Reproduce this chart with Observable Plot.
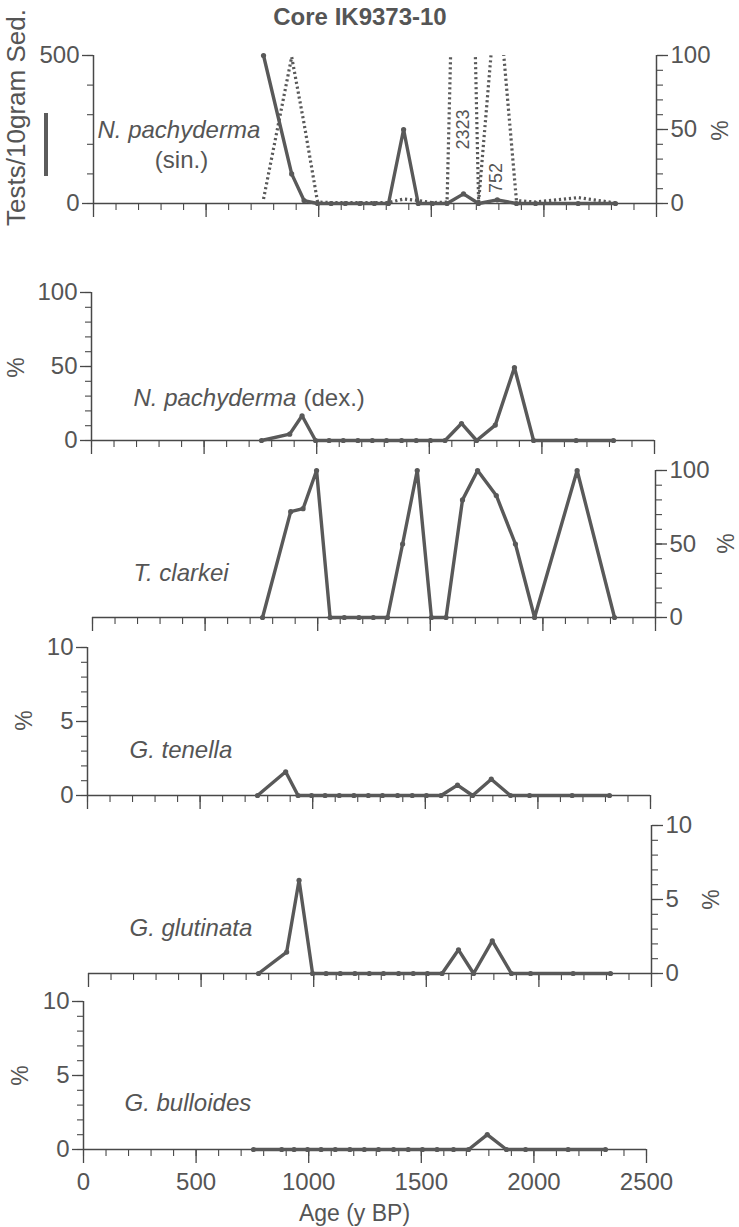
<!DOCTYPE html>
<html><head><meta charset="utf-8">
<script src="https://cdn.jsdelivr.net/npm/d3@7"></script>
<script src="https://cdn.jsdelivr.net/npm/@observablehq/plot@0.6"></script>
<style>
body{margin:0;background:#fff;}
#chart{position:relative;width:739px;height:1227px;overflow:hidden;font-family:"Liberation Sans",Arial,sans-serif;}
#chart svg{position:absolute;left:0;}
#title{position:absolute;top:3px;left:210px;width:300px;text-align:center;font:bold 24px/28px "Liberation Sans",Arial,sans-serif;color:#555;}
#legendbar{position:absolute;left:44px;top:113px;width:4px;height:63px;background:#5c5c5c;}
</style></head>
<body><div id="chart"><div id="title">Core IK9373-10</div><div id="legendbar"></div></div>
<script>
// sample ages (y BP)
const ages = [755, 880, 935, 995, 1055, 1118, 1183, 1247, 1310, 1377, 1442, 1505, 1570, 1643, 1710, 1793, 1878, 1963, 2152, 2318];
// N. pachyderma (sin.) tests / 10 g sediment (dotted, left axis)
const sinTests = [15, 495, 270, 5, 3, 3, 3, 3, 3, 15, 10, 3, 5, 2323, 5, 752, 10, 5, 20, 2];
// N. pachyderma (sin.) % (solid, right axis)
const sinPct = [100, 20, 2, 0, 0, 0, 0, 0, 0, 50, 0, 0, 0, 6.5, 0, 2.5, 0, 0, 0, 0];
const dexPct = [0, 4.3, 16.7, 0, 0, 0, 0, 0, 0, 0, 0, 0, 0, 11.5, 0, 10.4, 49.3, 0, 0, 0];
const clarkeiPct = [0, 72, 74, 100, 0, 0, 0, 0, 0, 50, 100, 0, 0, 80, 100, 83, 50, 0, 100, 0];
const tenellaPct = [0, 1.6, 0, 0, 0, 0, 0, 0, 0, 0, 0, 0, 0, 0.7, 0, 1.1, 0, 0, 0, 0];
const glutinataPct = [0, 1.45, 6.3, 0, 0, 0, 0, 0, 0, 0, 0, 0, 0, 1.6, 0, 2.2, 0, 0, 0, 0];
const bulloidesPct = [0, 0, 0, 0, 0, 0, 0, 0, 0, 0, 0, 0, 0, 0, 0, 1.0, 0, 0, 0, 0];
const xMajorTicks = [0, 500, 1000, 1500, 2000, 2500];
const offScale = [{age: 1640, v: 250, label: "2323"}, {age: 1790, v: 86, label: "752"}];

const INK = "#484848", LINE = "#595959", TXT = "#555";
const FONT = '"Liberation Sans", Arial, sans-serif';
const SPAN = 563;
const chart = document.getElementById("chart");
const toRows = (vals) => ages.map((a, i) => ({age: a, v: vals[i]}));

function series(vals, withDots = true) {
  const rows = toRows(vals);
  const m = [Plot.line(rows, {x: "age", y: "v", stroke: LINE, strokeWidth: 3.4, strokeLinejoin: "round"})];
  if (withDots) m.push(Plot.dot(rows, {x: "age", y: "v", r: 2.6, fill: LINE, stroke: "none"}));
  return m;
}
function label(text, px, py, yTop, x0, opts = {}) {
  return Plot.text([text], {text: d => d, frameAnchor: "top-left", dx: px - x0, dy: py - yTop,
    textAnchor: "start", fontSize: 24, fill: TXT, lineAnchor: "middle", ...opts});
}

function panel({yTop, y0, x0, yMax, yMajor, yMinor, side, marks, mb = 34, xLabels = false, xAxis = true}) {
  const mt = 30;
  const height = (y0 - yTop) + mt + mb;
  const all = [];
  if (xAxis) {
    all.push(Plot.ruleY([0], {stroke: INK, strokeWidth: 1.5}));
    all.push(Plot.axisX({ticks: d3.range(0, 2501, 100), tickSize: 7, tickFormat: () => "", color: INK, strokeWidth: 1.1, label: null}));
    all.push(Plot.axisX({ticks: xMajorTicks, tickSize: 14, tickPadding: 9, tickFormat: xLabels ? (d => String(d)) : (() => ""),
      color: INK, fill: TXT, strokeWidth: 1.3, fontSize: 24, label: null}));
  }
  if (side) {
    all.push(Plot.ruleX([side === "left" ? 0 : 2500], {stroke: INK, strokeWidth: 1.5}));
    all.push(Plot.axisY({anchor: side, ticks: yMinor, tickSize: 6, tickFormat: () => "", color: INK, strokeWidth: 1.1, label: null}));
    all.push(Plot.axisY({anchor: side, ticks: yMajor, tickSize: 11, tickPadding: 3, color: INK, fill: TXT, strokeWidth: 1.3, fontSize: 24, label: null}));
  }
  all.push(...marks);
  const svg = Plot.plot({
    width: 739, height, marginLeft: x0, marginRight: 739 - (x0 + SPAN), marginTop: mt, marginBottom: mb,
    x: {domain: [0, 2500], label: null, axis: xAxis ? undefined : null},
    y: {domain: [0, yMax], label: null},
    style: {background: "transparent", fontFamily: FONT, overflow: "visible"},
    marks: all
  });
  svg.style.top = (yTop - mt) + "px";
  chart.append(svg);
}

// Panel 1: N. pachyderma (sin.) — tests (dotted, left) and % (solid, right)
{
  const yTop = 55, y0 = 203, x0 = 93;
  panel({yTop, y0, x0, yMax: 500, yMajor: [0, 500], yMinor: d3.range(0, 501, 100), side: "left",
    marks: [
      Plot.line(toRows(sinTests), {x: "age", y: "v", stroke: LINE, strokeWidth: 3.2, strokeLinecap: "butt", strokeDasharray: "2.2,2.8", clip: true}),
      Plot.text(offScale, {x: "age", y: "v", text: "label", rotate: -90, fontSize: 18, fill: TXT}),
      label("Tests/10gram Sed.", 16, 117, yTop, x0, {rotate: -90, textAnchor: "middle", fontSize: 26}),
      label("N. pachyderma", 97, 130, yTop, x0, {fontStyle: "italic"}),
      label("(sin.)", 181, 160, yTop, x0, {textAnchor: "middle"})
    ]});
  panel({yTop, y0, x0, yMax: 100, yMajor: [0, 50, 100], yMinor: d3.range(0, 101, 10), side: "right", xAxis: false,
    marks: [...series(sinPct), label("%", 720, 130, yTop, x0, {rotate: -90, textAnchor: "middle", fontSize: 23})]});
}
// Panel 2: N. pachyderma (dex.)
{
  const yTop = 292, y0 = 440, x0 = 91;
  panel({yTop, y0, x0, yMax: 100, yMajor: [0, 50, 100], yMinor: d3.range(0, 101, 10), side: "left",
    marks: [...series(dexPct),
      label("%", 16, 367, yTop, x0, {rotate: -90, textAnchor: "middle", fontSize: 23}),
      label("N. pachyderma", 133, 398, yTop, x0, {fontStyle: "italic"}),
      label("(dex.)", 303, 398, yTop, x0)]});
}
// Panel 3: T. clarkei
{
  const yTop = 470, y0 = 617, x0 = 92;
  panel({yTop, y0, x0, yMax: 100, yMajor: [0, 50, 100], yMinor: d3.range(0, 101, 10), side: "right",
    marks: [...series(clarkeiPct),
      label("%", 726, 543, yTop, x0, {rotate: -90, textAnchor: "middle", fontSize: 23}),
      label("T. clarkei", 133, 573, yTop, x0, {fontStyle: "italic"})]});
}
// Panel 4: G. tenella
{
  const yTop = 647, y0 = 795, x0 = 87;
  panel({yTop, y0, x0, yMax: 10, yMajor: [0, 5, 10], yMinor: d3.range(0, 11, 1), side: "left",
    marks: [...series(tenellaPct),
      label("%", 24, 720, yTop, x0, {rotate: -90, textAnchor: "middle", fontSize: 23}),
      label("G. tenella", 129, 750, yTop, x0, {fontStyle: "italic"})]});
}
// Panel 5: G. glutinata
{
  const yTop = 825, y0 = 973, x0 = 88;
  panel({yTop, y0, x0, yMax: 10, yMajor: [0, 5, 10], yMinor: d3.range(0, 11, 1), side: "right",
    marks: [...series(glutinataPct),
      label("%", 711, 899, yTop, x0, {rotate: -90, textAnchor: "middle", fontSize: 23}),
      label("G. glutinata", 129, 928, yTop, x0, {fontStyle: "italic"})]});
}
// Panel 6: G. bulloides
{
  const yTop = 1001, y0 = 1149, x0 = 83;
  panel({yTop, y0, x0, yMax: 10, yMajor: [0, 5, 10], yMinor: d3.range(0, 11, 1), side: "left", xLabels: true, mb: 78,
    marks: [...series(bulloidesPct),
      label("%", 20, 1075, yTop, x0, {rotate: -90, textAnchor: "middle", fontSize: 23}),
      label("G. bulloides", 124, 1103, yTop, x0, {fontStyle: "italic"}),
      label("Age (y BP)", 354, 1213, yTop, x0, {textAnchor: "middle", fontSize: 23})]});
}
</script>
</body></html>
